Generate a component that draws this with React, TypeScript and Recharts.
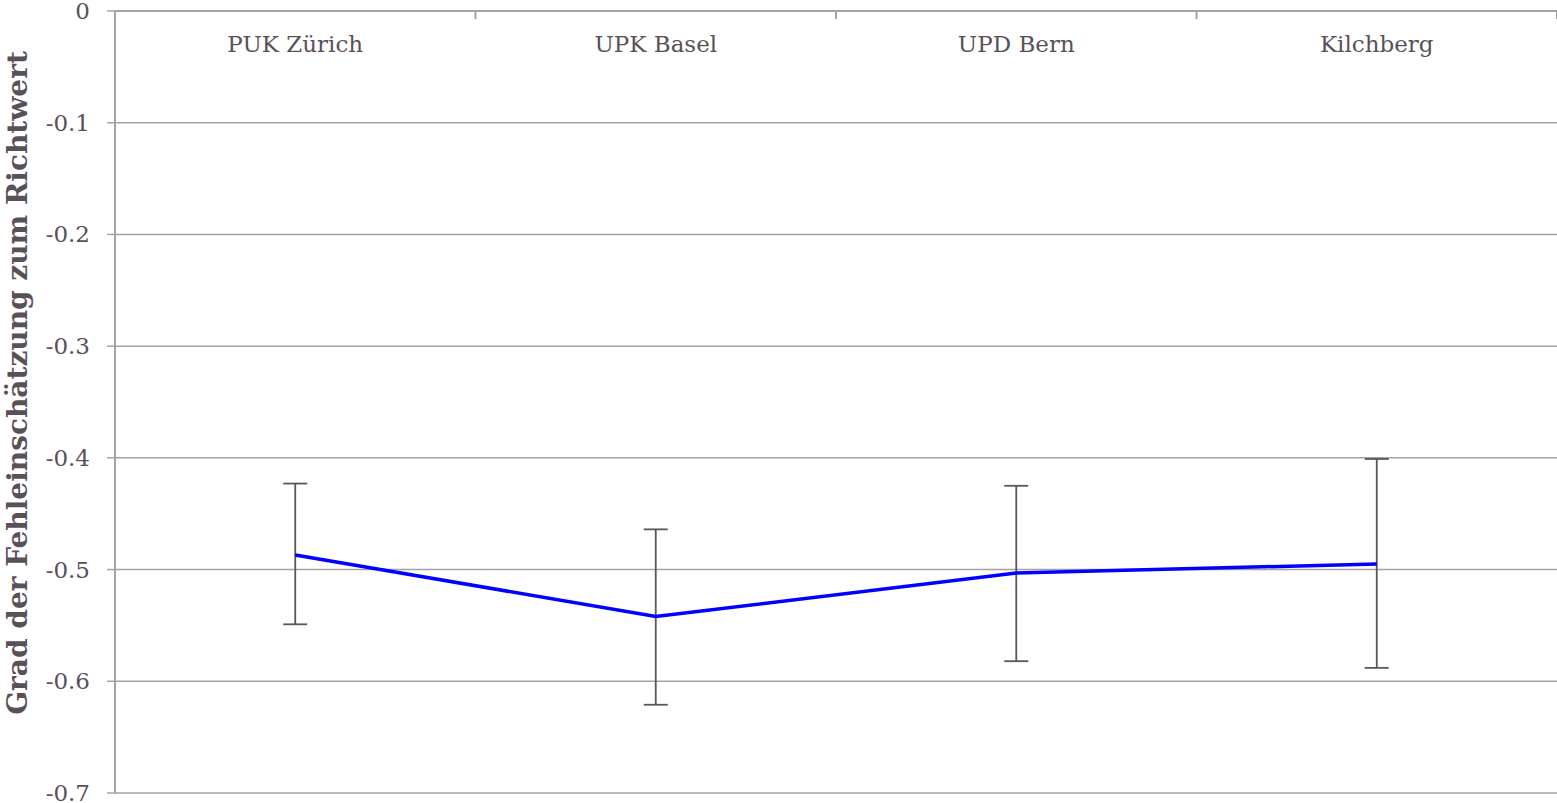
import { LineChart, Line, XAxis, YAxis, CartesianGrid, ErrorBar } from "recharts"

const categories = ["PUK Zürich", "UPK Basel", "UPD Bern", "Kilchberg"]
const meanValues = [-0.487, -0.542, -0.503, -0.495]
const upperBounds = [-0.423, -0.464, -0.425, -0.401]
const lowerBounds = [-0.549, -0.621, -0.582, -0.588]
const yTicks = [0, -0.1, -0.2, -0.3, -0.4, -0.5, -0.6, -0.7]

const textColor = "#5a5158"
const gridColor = "#a6a2a4"
const fontFamily = "'DejaVu Serif', Georgia, serif"

// x positions sit in the middle of each category slot; errors are [down, up] deltas
const chartData = categories.map((name, i) => ({
    name,
    x: i + 0.5,
    value: meanValues[i],
    err: [meanValues[i] - lowerBounds[i], upperBounds[i] - meanValues[i]]
}))

const xTicks = [0, 0.5, 1, 1.5, 2, 2.5, 3, 3.5, 4]

function TopTick(props: any) {
    const { x, y, payload } = props
    const v = payload.value as number
    if (Number.isInteger(v)) {
        if (v === 0) return <g />
        return <line x1={x} x2={x} y1={y + 8} y2={y + 16} stroke={gridColor} strokeWidth={2} />
    }
    return (
        <text
            x={x}
            y={y}
            dy={49}
            textAnchor="middle"
            fill={textColor}
            fontFamily={fontFamily}
            fontSize={23}
        >
            {categories[Math.floor(v)]}
        </text>
    )
}

function LeftTick(props: any) {
    const { x, y, payload } = props
    const v = payload.value as number
    return (
        <text
            x={x}
            y={y}
            dy={8}
            textAnchor="end"
            fill={textColor}
            fontFamily={fontFamily}
            fontSize={23}
        >
            {v === 0 ? "0" : v.toFixed(1)}
        </text>
    )
}

function AxisTitle(props: any) {
    const { viewBox } = props
    const cy = viewBox.y + viewBox.height / 2 - 19
    return (
        <text
            x={27}
            y={cy}
            transform={`rotate(-90, 27, ${cy})`}
            textAnchor="middle"
            fill={textColor}
            fontFamily={fontFamily}
            fontSize={28}
            fontWeight="bold"
        >
            Grad der Fehleinschätzung zum Richtwert
        </text>
    )
}

export default function App() {
    return (
        <div style={{ position: "absolute", left: 0, top: 0, background: "#fff" }}>
            <LineChart
                width={1557}
                height={803}
                data={chartData}
                margin={{ top: 10, right: 0, bottom: 10, left: 0 }}
            >
                <CartesianGrid
                    vertical={false}
                    stroke={gridColor}
                    strokeWidth={1.5}
                />
                <XAxis
                    type="number"
                    dataKey="x"
                    orientation="top"
                    domain={[0, 4]}
                    ticks={xTicks}
                    interval={0}
                    height={1}
                    axisLine={{ stroke: gridColor, strokeWidth: 2 }}
                    tickLine={false}
                    tick={(p: any) => <TopTick {...p} />}
                />
                <YAxis
                    type="number"
                    domain={[-0.7, 0]}
                    ticks={yTicks}
                    interval={0}
                    width={115}
                    tickSize={8}
                    tickMargin={17}
                    axisLine={{ stroke: gridColor, strokeWidth: 2 }}
                    tickLine={{ stroke: gridColor, strokeWidth: 1.5 }}
                    tick={(p: any) => <LeftTick {...p} />}
                    label={(p: any) => <AxisTitle {...p} />}
                />
                <Line
                    type="linear"
                    dataKey="value"
                    stroke="#0000ff"
                    strokeWidth={3.5}
                    dot={false}
                    activeDot={false}
                    isAnimationActive={false}
                >
                    <ErrorBar
                        dataKey="err"
                        direction="y"
                        width={12}
                        stroke="#5d5459"
                        strokeWidth={1.8}
                        isAnimationActive={false}
                    />
                </Line>
            </LineChart>
        </div>
    )
}
